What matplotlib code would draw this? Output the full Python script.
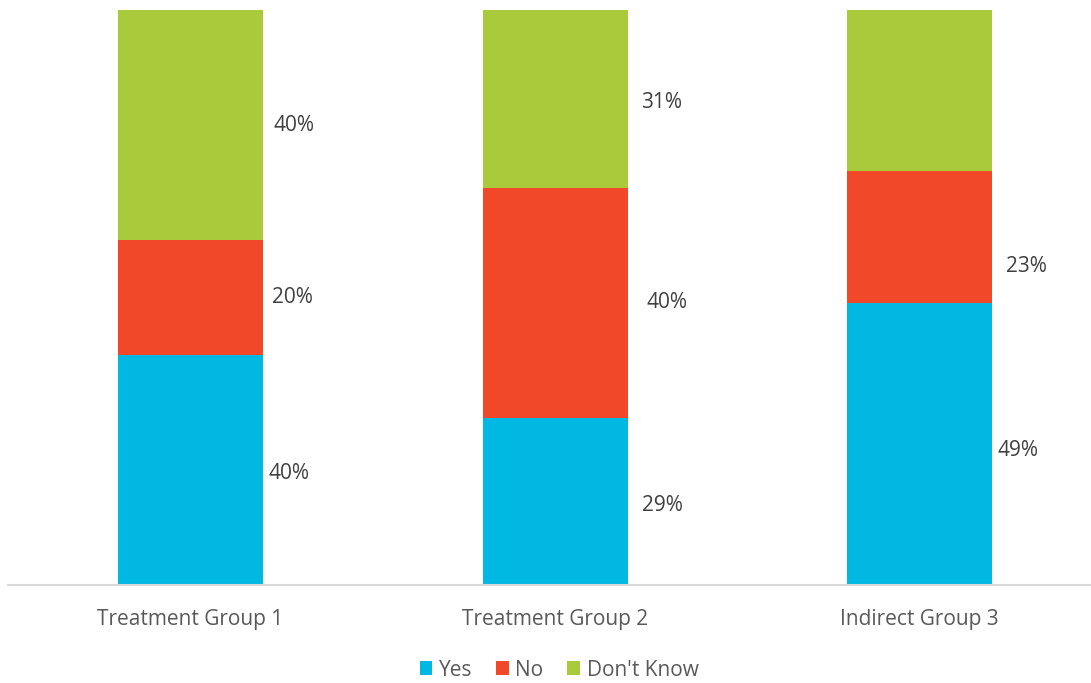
import numpy as np
import matplotlib
matplotlib.use("Agg")
import matplotlib.pyplot as plt

plt.rcParams['font.family'] = ['Open Sans', 'DejaVu Sans']

groups = ['Treatment Group 1', 'Treatment Group 2', 'Indirect Group 3']
series = ['Yes', 'No', "Don't Know"]
yes = [40, 29, 49]
no = [20, 40, 23]
dont_know = [40, 31, 28]
# labels shown on the chart (third Don't Know has none)
labels = [
  ['40%', '29%', '49%'],
  ['20%', '40%', '23%'],
  ['40%', '31%', ''],
]
colors = ['#00B8E1', '#F04829', '#A9CA3A']

fig = plt.figure(figsize=(10.91, 6.83), dpi=100)
W, H = 1091, 683
ax = fig.add_axes([8 / W, (H - 585) / H, (W - 8) / W, 575 / H])

x = np.arange(len(groups))
width = 145 / 364.5
bottom = np.zeros(len(groups))
# label nudges in pixels (right, down) from the segment's right-edge middle
dx_px = [[5, 14.5, 5], [9, 18.5, 14], [10, 13.5, 0]]
dy_px = [[3.5, 4.3, 6.4], [0, -1, 29.5], [0.5, 3, 0]]

for i, vals in enumerate([yes, no, dont_know]):
  ax.bar(x, vals, width, bottom=bottom, color=colors[i], label=series[i])
  for j, v in enumerate(vals):
    if labels[i][j]:
      yc = bottom[j] + v / 2
      ax.annotate(labels[i][j], (x[j] + width / 2, yc),
                  xytext=(dx_px[i][j] * 0.72, -dy_px[i][j] * 0.72),
                  textcoords='offset points', ha='left', va='center',
                  fontsize=15, color='#404040')
  bottom += np.array(vals)

ax.set_xlim(-0.5007, 2 + 171.5 / 364.5)
ax.set_ylim(0, 100)
ax.set_xticks(x)
ax.set_xticklabels(groups, fontsize=15, color='#595959')
ax.tick_params(axis='x', length=0, pad=17)
ax.set_yticks([])
for s in ['top', 'right', 'left']:
  ax.spines[s].set_visible(False)
ax.spines['bottom'].set_color('#D9D9D9')
ax.spines['bottom'].set_linewidth(1.5)

leg = fig.legend(loc='center', bbox_to_anchor=(559 / W, (H - 670) / H), ncol=3,
                 frameon=False, fontsize=15, handlelength=0.62, handleheight=0.62,
                 handletextpad=0.3, columnspacing=1.15)
for t in leg.get_texts():
  t.set_color('#595959')

fig.savefig('out.png', dpi=100)
